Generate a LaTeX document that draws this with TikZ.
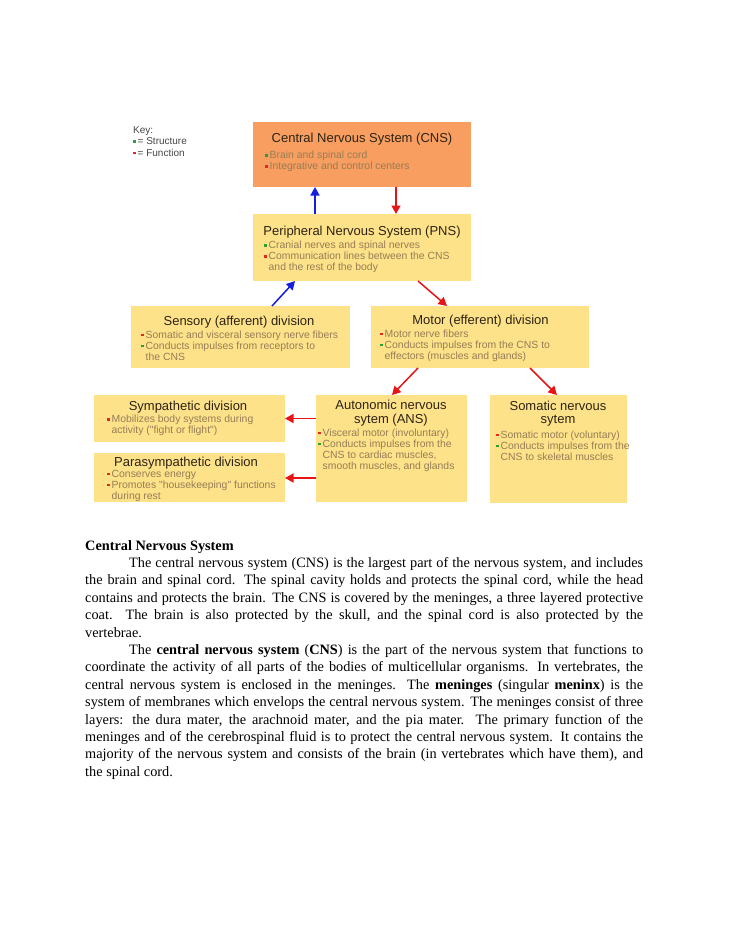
\documentclass[tikz,border=0pt]{standalone}
\usepackage{fontspec}
\setmainfont{Liberation Serif}
\newfontfamily\arialf{Liberation Sans}
\usetikzlibrary{arrows.meta,calc}

\definecolor{cnsorange}{RGB}{248,158,96}
\definecolor{boxyellow}{RGB}{253,226,138}
\definecolor{titlecol}{RGB}{45,35,20}
\definecolor{bodycol}{RGB}{150,125,85}
\definecolor{keycol}{RGB}{70,70,70}
\definecolor{keygreen}{RGB}{40,160,50}
\definecolor{keyred}{RGB}{230,40,30}
\definecolor{arrred}{RGB}{230,20,20}
\definecolor{arrblue}{RGB}{20,30,225}

\newcommand\bul[1]{\makebox[4.5pt][l]{\textcolor{#1}{\rule[1.8pt]{2.6pt}{2.6pt}}}}
\newcommand\cnt{\hspace*{4.5pt}}

\tikzset{
  boxbase/.style={inner sep=0pt, outer sep=0pt, anchor=north west},
  cnsbox/.style={boxbase, fill=cnsorange},
  ybox/.style={boxbase, fill=boxyellow},
  ttl/.style={font=\arialf\fontsize{13}{13.5}\selectfont, text=titlecol, inner sep=0pt, anchor=base, align=center},
  bodytxt/.style={font=\arialf\fontsize{10.4}{11}\selectfont, text=bodycol, inner sep=0pt, anchor=base west, align=left},
  keytxt/.style={font=\arialf\fontsize{10}{11.5}\selectfont, text=keycol, inner sep=0pt, anchor=base west, align=left},
  arr/.style={line width=1.5pt, -{Triangle[length=8.5pt,width=9pt]}},
}

\begin{document}
\begin{tikzpicture}[x=1pt,y=-1pt]
\fill[white] (0,0) rectangle (728,942);
\useasboundingbox (0,0) rectangle (728,942);

% key (anchor = baseline of last line)
\node[keytxt] (key) at (133,156) {Key:\\\bul{keygreen}= Structure\\\bul{keyred}= Function};

% boxes
\node[cnsbox, minimum width=218pt, minimum height=65pt] (cns) at (253,122) {};
\node[ybox, minimum width=218pt, minimum height=67pt] (pns) at (253,214) {};
\node[ybox, minimum width=219pt, minimum height=62pt] (sens) at (131,306) {};
\node[ybox, minimum width=218pt, minimum height=62pt] (motor) at (371,306) {};
\node[ybox, minimum width=191pt, minimum height=47pt] (symp) at (94,395) {};
\node[ybox, minimum width=191pt, minimum height=49pt] (para) at (94,453) {};
\node[ybox, minimum width=151pt, minimum height=107pt] (ans) at (316,395) {};
\node[ybox, minimum width=137pt, minimum height=108pt] (som) at (490,395) {};

% texts (multi-line nodes: anchor at baseline of last line)
\node[ttl] (cnsT) at (362,142.5) {Central Nervous System (CNS)};
\node[bodytxt] (cnsB) at (265,169.5) {\bul{keygreen}Brain and spinal cord\\\bul{keyred}Integrative and control centers};

\node[ttl] (pnsT) at (362,235.5) {Peripheral Nervous System (PNS)};
\node[bodytxt] (pnsB) at (264,270.7) {\bul{keygreen}Cranial nerves and spinal nerves\\\bul{keyred}Communication lines between the CNS\\\cnt and the rest of the body};

\node[ttl] (sensT) at (239,325) {Sensory (afferent) division};
\node[bodytxt] (sensB) at (141,360) {\bul{keyred}Somatic and visceral sensory nerve fibers\\\bul{keygreen}Conducts impulses from receptors to\\\cnt the CNS};

\node[ttl] (motorT) at (480.5,324.5) {Motor (efferent) division};
\node[bodytxt] (motorB) at (380,359) {\bul{keyred}Motor nerve fibers\\\bul{keygreen}Conducts impulses from the CNS to\\\cnt effectors (muscles and glands)};

\node[ttl] (sympT) at (188,410) {Sympathetic division};
\node[bodytxt] (sympB) at (107,433.5) {\bul{keyred}Mobilizes body systems during\\\cnt activity ("fight or flight")};

\node[ttl] (paraT) at (186,466.5) {Parasympathetic division};
\node[bodytxt] (paraB) at (107,499) {\bul{keyred}Conserves energy\\\bul{keyred}Promotes "housekeeping" functions\\\cnt during rest};

\node[ttl] (ansT) at (391,423) {Autonomic nervous\\sytem (ANS)};
\node[bodytxt] (ansB) at (318,469) {\bul{keyred}Visceral motor (involuntary)\\\bul{keygreen}Conducts impulses from the\\\cnt CNS to cardiac muscles,\\\cnt smooth muscles, and glands};

\node[ttl] (somT) at (558,423.5) {Somatic nervous\\sytem};
\node[bodytxt] (somB) at (496,460) {\bul{keyred}Somatic motor (voluntary)\\\bul{keygreen}Conducts impulses from the\\\cnt CNS to skeletal muscles};

% arrows
\draw[arr, arrblue] ($(pns.north west)+(62,0)$) -- ($(cns.south west)+(62,0)$);
\draw[arr, arrred] ($(cns.south west)+(143,0)$) -- ($(pns.north west)+(143,0)$);
\draw[arr, arrblue] ($(sens.north west)+(141,0)$) -- ($(pns.south west)+(42,0)$);
\draw[arr, arrred] ($(pns.south west)+(165,0)$) -- ($(motor.north west)+(76,0)$);
\draw[arr, arrred] ($(motor.south west)+(47,0)$) -- ($(ans.north west)+(76,0)$);
\draw[arr, arrred] ($(motor.south west)+(159,0)$) -- ($(som.north west)+(67,0)$);
\draw[arr, arrred] ($(ans.north west)+(0,23.5)$) -- ($(symp.north east)+(0,23.5)$);
\draw[arr, arrred] ($(ans.north west)+(0,83)$) -- ($(para.north east)+(0,25)$);

% body text
\node[inner sep=0pt, anchor=base west, text width=558pt, align=justify,
      font=\fontsize{14.3}{17.4}\selectfont] (txt) at (85,550) {%
\textbf{Central Nervous System}\par
\hspace*{44pt}The central nervous system (CNS) is the largest part of the nervous system, and includes\linebreak
the brain and spinal cord. The spinal cavity holds and protects the spinal cord, while the head\linebreak
contains and protects the brain. The CNS is covered by the meninges, a three layered protective\linebreak
coat. The brain is also protected by the skull, and the spinal cord is also protected by the\linebreak
vertebrae.\par
\hspace*{44pt}The \textbf{central nervous system} (\textbf{CNS}) is the part of the nervous system that functions to\linebreak
coordinate the activity of all parts of the bodies of multicellular organisms. In vertebrates, the\linebreak
central nervous system is enclosed in the meninges. The \textbf{meninges} (singular \textbf{meninx}) is the\linebreak
system of membranes which envelops the central nervous system. The meninges consist of three\linebreak
layers: the dura mater, the arachnoid mater, and the pia mater. The primary function of the\linebreak
meninges and of the cerebrospinal fluid is to protect the central nervous system. It contains the\linebreak
majority of the nervous system and consists of the brain (in vertebrates which have them), and\linebreak
the spinal cord.};
\end{tikzpicture}
\end{document}
